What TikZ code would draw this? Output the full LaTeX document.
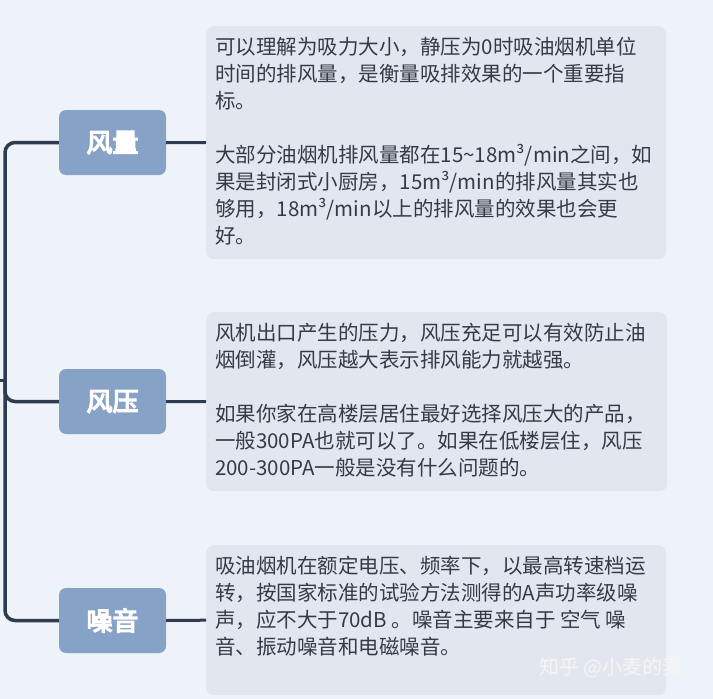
\documentclass[tikz,border=0pt]{standalone}
\usepackage{fontspec}
\newfontfamily\cjk{Noto Sans CJK SC}
\newfontfamily\cjkbold{Noto Sans CJK SC}[AutoFakeBold=5]
\definecolor{bgc}{HTML}{EEF2F9}
\definecolor{boxc}{HTML}{E2E7EF}
\definecolor{topc}{HTML}{87A2C7}
\definecolor{linec}{HTML}{2F3B4E}
\definecolor{txtc}{HTML}{353A44}
\begin{document}
\begin{tikzpicture}[x=1pt,y=-1pt,
  topic/.style={fill=topc,rounded corners=7pt,minimum width=107pt,minimum height=65pt,inner sep=0pt,text=white,font=\cjkbold\bfseries\fontsize{26}{30}\selectfont},
  infobox/.style={fill=boxc,rounded corners=8pt,inner sep=0pt,anchor=north west},
  infotext/.style={anchor=north west,align=left,inner sep=0pt,text=txtc,font=\cjk\fontsize{20.5}{27}\selectfont},
  conn/.style={draw=linec,line width=3.5pt,rounded corners=10pt},
  thin/.style={draw=linec,line width=3pt}]
\fill[bgc] (0,0) rectangle (713,699);
\useasboundingbox (0,0) rectangle (713,699);
% info boxes
\node[infobox,minimum width=460pt,minimum height=233pt] (t1) at (206,26) {};
\node[infobox,minimum width=461pt,minimum height=179pt] (t2) at (206,312) {};
\node[infobox,minimum width=460pt,minimum height=150pt] (t3) at (206,545) {};
% topics
\node[topic] (b1) at (112.5,142.5) {风量};
\node[topic] (b2) at (112.5,401.5) {风压};
\node[topic] (b3) at (112.5,620.5) {噪音};
% texts
\node[infotext] (x1) at (215,37) {可以理解为吸力大小，静压为0时吸油烟机单位\\时间的排风量，是衡量吸排效果的一个重要指\\标。\\[27pt]大部分油烟机排风量都在15\textasciitilde18m³/min之间，如\\果是封闭式小厨房，15m³/min的排风量其实也\\够用，18m³/min以上的排风量的效果也会更\\好。};
\node[infotext] (x2) at (215,323) {风机出口产生的压力，风压充足可以有效防止油\\烟倒灌，风压越大表示排风能力就越强。\\[27pt]如果你家在高楼层居住最好选择风压大的产品，\\一般300PA也就可以了。如果在低楼层住，风压\\200-300PA一般是没有什么问题的。};
\node[infotext] (x3) at (215,556) {吸油烟机在额定电压、频率下，以最高转速档运\\转，按国家标准的试验方法测得的A声功率级噪\\声，应不大于70dB 。噪音主要来自于 空气 噪\\音、振动噪音和电磁噪音。};
% connectors
\coordinate (trunkTop) at (5,142.5);
\coordinate (trunkBot) at (5,620.5);
\coordinate (midA) at (5,380);
\coordinate (midB) at (5,401.5);
\coordinate (stub) at (0,380);
\draw[conn] (b1.west) -- (trunkTop) -- (trunkBot) -- (b3.west);
\draw[conn] (midA) -- (midB) -- (b2.west);
\draw[thin] (stub) -- (midA);
\draw[thin] (b1.east) -- (t1.west);
\draw[thin] (b2.east) -- (t2.west);
\draw[thin] (b3.east) -- (t3.west);
% watermark
\node[anchor=west,inner sep=0pt,text=white!92!gray,font=\cjk\fontsize{20}{22}\selectfont] (wm) at (539,668) {知乎 @小麦的麦};
\end{tikzpicture}
\end{document}
